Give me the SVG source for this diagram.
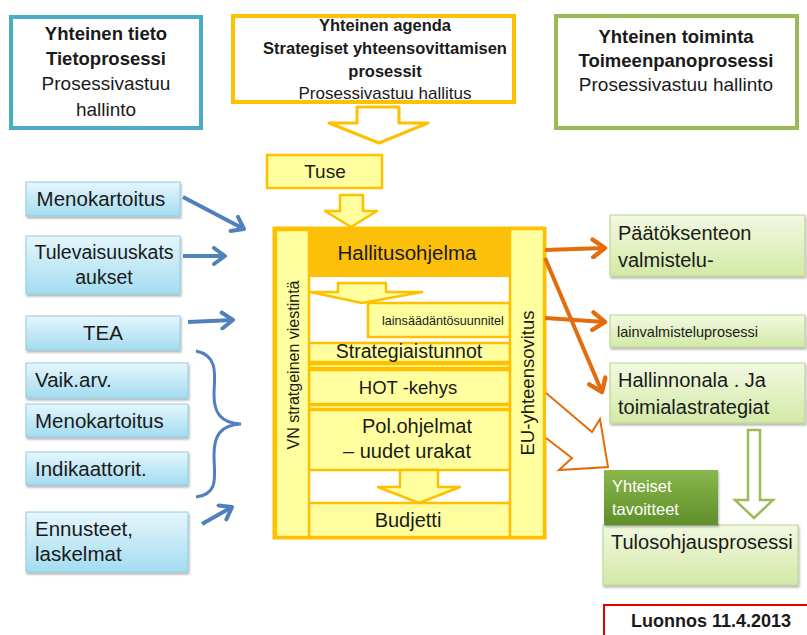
<svg xmlns="http://www.w3.org/2000/svg" width="807" height="635" viewBox="0 0 807 635">
<defs>
<linearGradient id="gBlue" x1="0" y1="0" x2="0" y2="1"><stop offset="0" stop-color="#e6f6fc"/><stop offset="1" stop-color="#a3dcf0"/></linearGradient>
<linearGradient id="gGreen" x1="0" y1="0" x2="0" y2="1"><stop offset="0" stop-color="#f2f9e2"/><stop offset="1" stop-color="#d3e9a6"/></linearGradient>
<linearGradient id="gDark" x1="0" y1="0" x2="0" y2="1"><stop offset="0" stop-color="#8ab64c"/><stop offset="1" stop-color="#5f8f2a"/></linearGradient>
<filter id="sh" x="-10%" y="-10%" width="130%" height="140%"><feDropShadow dx="1" dy="2" stdDeviation="1.2" flood-color="#000" flood-opacity="0.3"/></filter>
<marker id="mBlue" viewBox="0 0 20 20" refX="15" refY="10" markerWidth="20" markerHeight="20" markerUnits="userSpaceOnUse" orient="auto"><path d="M4,2 L15,10 L4,18" fill="none" stroke="#4f81bd" stroke-width="4" stroke-linecap="round" stroke-linejoin="round"/></marker>
<marker id="mOrange" viewBox="0 0 20 20" refX="15" refY="10" markerWidth="22" markerHeight="22" markerUnits="userSpaceOnUse" orient="auto"><path d="M4,2 L15,10 L4,18" fill="none" stroke="#e46c0a" stroke-width="4" stroke-linecap="round" stroke-linejoin="round"/></marker>
</defs>
<style>
text{font-family:"Liberation Sans",Arial,sans-serif;fill:#1a1a1a}
.c{text-anchor:middle}
.b{font-weight:bold}
.blue{fill:url(#gBlue);stroke:#8fcde2;stroke-width:1;filter:url(#sh)}
.green{fill:url(#gGreen);stroke:#b9d48a;stroke-width:1;filter:url(#sh)}
.yl{fill:#ffff9f;stroke:#ffc000;stroke-width:2.5}
.tb{font-size:20.5px}
.tg{font-size:20px}
.bl{fill:none;stroke:#4f81bd;stroke-width:4;marker-end:url(#mBlue)}
.or{fill:none;stroke:#e46c0a;stroke-width:4;marker-end:url(#mOrange)}
</style>
<rect width="807" height="635" fill="#fff"/>

<g id="tieto">
<rect x="11" y="17" width="190" height="111" fill="#fff" stroke="#4bacc6" stroke-width="4"/>
<text x="106" y="40" class="c b" font-size="18.5">Yhteinen tieto</text>
<text x="106" y="65" class="c b" font-size="18.5">Tietoprosessi</text>
<text x="106" y="90" class="c" font-size="19">Prosessivastuu</text>
<text x="106" y="116" class="c" font-size="19">hallinto</text>
</g>

<g id="agenda">
<rect x="233" y="16" width="281" height="86" fill="#fff"/>
<text x="385" y="31" class="c b" font-size="16.5">Yhteinen agenda</text>
<text x="385" y="54" class="c b" font-size="16.5">Strategiset yhteensovittamisen</text>
<text x="385" y="77" class="c b" font-size="16.5">prosessit</text>
<text x="385" y="99" class="c" font-size="17">Prosessivastuu hallitus</text>
<rect x="233" y="16" width="281" height="86" fill="none" stroke="#ffc000" stroke-width="4"/>
</g>

<g id="toiminta">
<rect x="556" y="16" width="241" height="112" fill="#fff" stroke="#9bbb59" stroke-width="4"/>
<text x="676" y="43" class="c b" font-size="18.5">Yhteinen toiminta</text>
<text x="676" y="67" class="c b" font-size="18.5">Toimeenpanoprosessi</text>
<text x="676" y="91" class="c" font-size="19">Prosessivastuu hallinto</text>
</g>

<g id="arrowTop"><polygon points="357,107 399,107 399,123 428,123 379,143 329,123 357,123" fill="#fff" stroke="#ffc000" stroke-width="3" stroke-linejoin="round"/></g>

<g id="tuse">
<rect x="267" y="155" width="115" height="33" class="yl"/>
<text x="325" y="178" class="c" font-size="19">Tuse</text>
</g>
<g id="arrowTuse"><polygon points="340,195 363,195 363,211 377,211 351,227 325,211 340,211" class="yl" stroke-linejoin="round"/></g>

<g id="frame">
<rect x="274" y="228" width="271" height="310" fill="#fff" stroke="#ffc000" stroke-width="3"/>
</g>
<g id="hallitusohjelma">
<rect x="275" y="229" width="237" height="48" fill="#fcbf0a"/>
<text x="407" y="260" class="c" font-size="20.5">Hallitusohjelma</text>
</g>
<g id="arrowInner"><polygon points="338,283 386,283 386,292 422,292 362,303 310,292 338,292" class="yl" stroke-width="2" stroke-linejoin="round"/></g>
<g id="lainsaadanto">
<rect x="368" y="303" width="142" height="34" class="yl" stroke-width="2"/>
<text x="382" y="325" font-size="12.6">lainsäädäntösuunnitel</text>
</g>
<g id="strategiaistunnot">
<rect x="309" y="343" width="201" height="19" class="yl" stroke-width="2"/>
<text x="409" y="358" class="c" font-size="19.5">Strategiaistunnot</text>
</g>
<rect x="309" y="364" width="201" height="4" class="yl" stroke-width="1.5"/>
<g id="hot">
<rect x="309" y="370" width="201" height="34" class="yl" stroke-width="2"/>
<text x="408" y="394" class="c" font-size="18.5">HOT -kehys</text>
</g>
<rect x="309" y="405" width="201" height="4" class="yl" stroke-width="1.5"/>
<g id="polohjelmat">
<rect x="309" y="410" width="201" height="60" class="yl" stroke-width="2"/>
<text x="417" y="433" class="c" font-size="20">Pol.ohjelmat</text>
<text x="407" y="458" class="c" font-size="20">– uudet urakat</text>
</g>
<g id="arrowBudjetti"><polygon points="400,470 438,470 438,487 460,487 419,503 378,487 400,487" class="yl" stroke-width="2" stroke-linejoin="round"/></g>
<g id="budjetti">
<rect x="309" y="503" width="201" height="34" class="yl" stroke-width="2"/>
<text x="408" y="527" class="c" font-size="20">Budjetti</text>
</g>
<g id="viestinta">
<rect x="276" y="230" width="33" height="307" class="yl" stroke-width="2"/>
<text transform="translate(299,365) rotate(-90)" class="c" font-size="16">VN stratgeinen viestintä</text>
</g>
<g id="eu">
<rect x="510" y="229" width="34" height="308" class="yl" stroke-width="2"/>
<text transform="translate(534,383) rotate(-90)" class="c" font-size="18.5">EU-yhteensovitus</text>
</g>

<g id="menokartoitus1"><rect x="26" y="182" width="154" height="34" class="blue"/><text x="101" y="206" class="c tb">Menokartoitus</text></g>
<g id="tulevaisuus"><rect x="26" y="236" width="154" height="58" class="blue"/><text x="104" y="259" class="c" font-size="19.5">Tulevaisuuskats</text><text x="104" y="284" class="c" font-size="19.5">aukset</text></g>
<g id="tea"><rect x="26" y="316" width="154" height="34" class="blue"/><text x="103" y="340" class="c tb">TEA</text></g>
<g id="vaik"><rect x="26" y="363" width="162" height="35" class="blue"/><text x="35" y="387" class="tb">Vaik.arv.</text></g>
<g id="menokartoitus2"><rect x="26" y="404" width="162" height="33" class="blue"/><text x="35" y="428" class="tb">Menokartoitus</text></g>
<g id="indikaattorit"><rect x="26" y="452" width="162" height="33" class="blue"/><text x="35" y="476" class="tb">Indikaattorit.</text></g>
<g id="ennusteet"><rect x="26" y="512" width="162" height="60" class="blue"/><text x="35" y="536" class="tb">Ennusteet,</text><text x="35" y="561" class="tb">laskelmat</text></g>

<g id="paatoksenteon"><rect x="610" y="215" width="195" height="61" class="green"/><text x="618" y="240" class="tg">Päätöksenteon</text><text x="618" y="267" class="tg">valmistelu-</text></g>
<g id="lainvalmistelu"><rect x="610" y="315" width="195" height="32" class="green"/><text x="617" y="337" font-size="14.5">lainvalmisteluprosessi</text></g>
<g id="hallinnonala"><rect x="610" y="363" width="195" height="60" class="green"/><text x="618" y="387" class="tg">Hallinnonala . Ja</text><text x="618" y="414" class="tg">toimialastrategiat</text></g>
<g id="tulosohjaus"><rect x="603" y="525" width="195" height="60" class="green"/><text x="611" y="549" class="tg">Tulosohjausprosessi</text></g>
<g id="yhteiset"><rect x="604" y="470" width="114" height="55" fill="url(#gDark)" filter="url(#sh)"/><text x="612" y="492" font-size="16.5" style="fill:#fff">Yhteiset</text><text x="612" y="515" font-size="16.5" style="fill:#fff">tavoitteet</text></g>
<g id="luonnos"><rect x="604" y="605" width="210" height="40" fill="#fff" stroke="#e00000" stroke-width="2"/><text x="711" y="627" class="c b" font-size="18">Luonnos 11.4.2013</text></g>

<g id="connectors">
<path class="bl" d="M183,197 L244,229"/>
<path class="bl" d="M183,256 L225,256"/>
<path class="bl" d="M188,322 L233,320"/>
<path class="bl" d="M202,524 L232,507"/>
<path d="M196,351 C220,356 214,378 214,395 C214,412 220,423 241,424 C220,425 214,436 214,455 C214,475 220,494 196,497" fill="none" stroke="#4f81bd" stroke-width="3"/>
<path class="or" d="M545,250 L605,248"/>
<path class="or" d="M545,318 L605,322"/>
<path class="or" d="M545,258 L602,392"/>
<path d="M546,393 L592,432 L600,419 L608,467 L559,470 L572,458 L546,438" fill="#fff" stroke="#e46c0a" stroke-width="2" stroke-linejoin="miter"/>
<polygon points="748,430 760,430 760,500 773,500 754,518 735,500 748,500" fill="#fff" stroke="#9bbb59" stroke-width="2.5"/>
</g>
</svg>
